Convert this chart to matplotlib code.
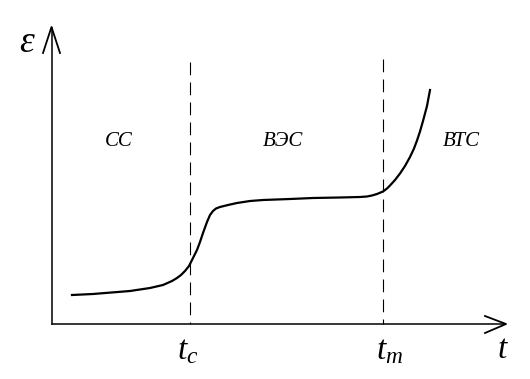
import matplotlib.pyplot as plt

plt.rcParams['mathtext.fontset'] = 'custom'
plt.rcParams['mathtext.it'] = 'Liberation Serif:italic'
plt.rcParams['mathtext.rm'] = 'Liberation Serif'

# curve (pixel coords, y down)
curve_x = [72, 93, 130, 150, 163, 172, 177, 181, 185, 189, 193, 197, 200, 203, 207,
           210, 213, 216, 220, 228, 237, 250, 263, 290, 313, 340, 360, 367, 372,
           377, 383, 387, 390, 395, 400, 405, 410, 414, 417, 420, 423, 427, 430]
curve_y = [295, 294, 291, 288, 285, 281, 278, 275, 271, 266, 258, 250, 242, 233, 222,
           215, 211, 208.5, 207, 205, 203, 201, 200, 199, 198, 197.5, 197, 196.5, 195.5,
           194, 191.5, 188.5, 185.5, 180, 173.5, 166, 157, 148.5, 140.5, 131.5, 121,
           106, 90]

t_c = 190
t_m = 383
x0, y0 = 52, 324
regions = ['CC', 'ВЭС', 'ВТС']
region_x = [119, 283, 461]

fig = plt.figure(figsize=(5.3, 3.79), dpi=100)
ax = fig.add_axes([0, 0, 1, 1])
ax.set_xlim(0, 530)
ax.set_ylim(379, 0)
ax.axis('off')

# axes with open arrowheads
ax.plot([x0, x0], [y0, 28], color='black', lw=1.1)
ax.plot([43, 51.5, 60], [53, 27, 53], color='black', lw=1.3)
ax.plot([x0, 505], [y0, y0], color='black', lw=1.1)
ax.plot([485, 506, 485], [316, 324, 333], color='black', lw=1.3)

# dashed boundaries
ax.plot([t_c, t_c], [62, y0], color='black', lw=0.8, linestyle=(0, (11.5, 6.5)))
ax.plot([t_m, t_m], [59, y0], color='black', lw=0.8, linestyle=(0, (11.5, 6.5)))

ax.plot(curve_x, curve_y, color='black', lw=1.6, solid_joinstyle='round')

for name, x in zip(regions, region_x):
    ax.text(x, 142, name, fontsize=15, fontstyle='italic', family='Liberation Serif',
            ha='center', va='center')

ax.text(27, 42, r'$\varepsilon$', fontsize=27, ha='center', va='center')
ax.text(t_c - 2, 350, r'$t_c$', fontsize=24, ha='center', va='center')
ax.text(t_m + 7, 350, r'$t_m$', fontsize=24, ha='center', va='center')
ax.text(503, 348, r'$t$', fontsize=24, ha='center', va='center')

fig.savefig('out.png', dpi=100)
